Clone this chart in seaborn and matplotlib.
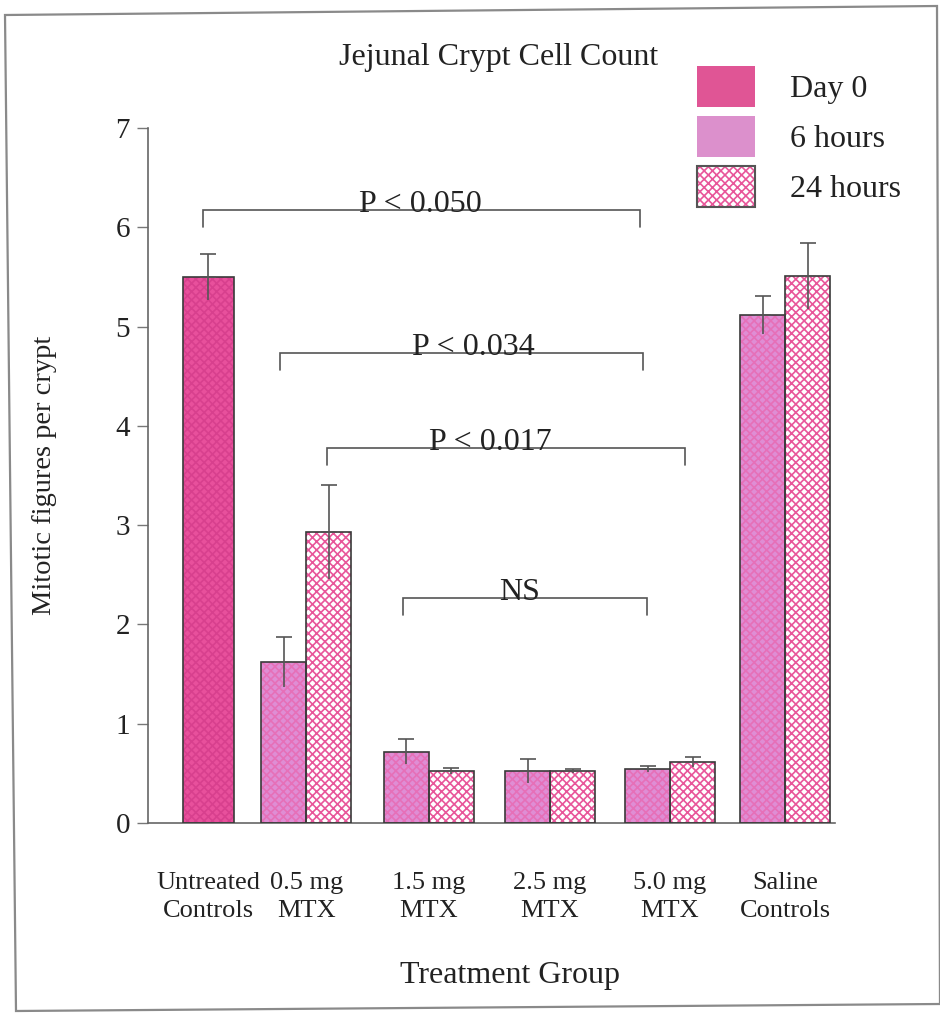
import numpy as np
import pandas as pd
import matplotlib
matplotlib.use("Agg")
import matplotlib.pyplot as plt
import seaborn as sns
from matplotlib.patches import Patch, Rectangle, Polygon

# ---------------- data ----------------
groups = ["Untreated\nControls", "0.5 mg\nMTX", "1.5 mg\nMTX", "2.5 mg\nMTX",
          "5.0 mg\nMTX", "Saline\nControls"]
series = ["Day 0", "6 hours", "24 hours"]

day0_values = [5.50]
day0_errors = [0.23]
h6_values = [1.62, 0.72, 0.52, 0.54, 5.12]
h6_errors = [0.25, 0.13, 0.12, 0.03, 0.19]
h24_values = [2.93, 0.52, 0.52, 0.61, 5.51]
h24_errors = [0.47, 0.03, 0.02, 0.05, 0.33]

y_ticks = [0, 1, 2, 3, 4, 5, 6, 7]

comparison_labels = ["P < 0.050", "P < 0.034", "P < 0.017", "NS"]

# ---------------- layout ----------------
group_x = [0.504, 1.32, 2.34, 3.35, 4.35, 5.31]
pair_offset = 0.1875
day0_width = 0.425
bracket_heights = [6.17, 4.73, 3.78, 2.27]
bracket_drop = 0.17

face_colors = {"Day 0": "#e8509c", "6 hours": "#df8dd4", "24 hours": "#ffffff"}
hatch_colors = {"Day 0": "#d8408e", "6 hours": "#e670b8", "24 hours": "#e8569a"}
edge_dark = "#3a3a3a"
text_color = "#222222"

rows = []
rows.append(dict(pos=group_x[0], value=day0_values[0], err=day0_errors[0], series="Day 0"))
for i, (v, e) in enumerate(zip(h6_values, h6_errors)):
    rows.append(dict(pos=group_x[i + 1] - pair_offset, value=v, err=e, series="6 hours"))
for i, (v, e) in enumerate(zip(h24_values, h24_errors)):
    rows.append(dict(pos=group_x[i + 1] + pair_offset, value=v, err=e, series="24 hours"))
df = pd.DataFrame(rows)

sns.set_theme(style="white")
plt.rcParams["font.family"] = ["Liberation Serif", "DejaVu Serif"]
plt.rcParams["hatch.linewidth"] = 1.2

fig = plt.figure(figsize=(9.4, 10.13), dpi=100)
ax = fig.add_axes([148 / 940, 1 - 823 / 1013, 687 / 940, 695 / 1013])

sns.barplot(data=df, x="pos", y="value", hue="series", hue_order=series,
            palette=[face_colors[s] for s in series], native_scale=True,
            dodge=False, width=1.0, errorbar=None, legend=False, saturation=1,
            ax=ax)

for cont, s in zip(ax.containers, series):
    for p in cont:
        if s == "Day 0":
            p.set_x(p.get_x() - (day0_width - p.get_width()) / 2)
            p.set_width(day0_width)
        p.set_hatch("xxxx")
        p.set_edgecolor(hatch_colors[s])
        p.set_linewidth(0)
        p.set_zorder(2)
        ax.add_patch(Rectangle((p.get_x(), p.get_y()), p.get_width(), p.get_height(),
                               fill=False, edgecolor=edge_dark, linewidth=1.2, zorder=3))

zeros = np.zeros(len(df))
ax.errorbar(df["pos"], df["value"], yerr=[df["err"], zeros], fmt="none",
            ecolor="#555555", elinewidth=1.2, capsize=0, zorder=4)
ax.errorbar(df["pos"], df["value"], yerr=[zeros, df["err"]], fmt="none",
            ecolor="#555555", elinewidth=1.2, capsize=5.8, capthick=1.2, zorder=4)

# brackets
pos_day0 = group_x[0]
pos_h6 = [g - pair_offset for g in group_x[1:]]
pos_h24 = [g + pair_offset for g in group_x[1:]]
bracket_ends = [(pos_day0 - 0.045, pos_h6[3] - 0.06),
                (pos_h6[0] - 0.035, pos_h6[3] - 0.035),
                (pos_h24[0] - 0.015, pos_h24[3] - 0.06),
                (pos_h6[1] - 0.03, pos_h6[3] - 0.005)]
label_x = [2.27, 2.71, 2.85, 3.1]
for (x0, x1), h, lab, lx in zip(bracket_ends, bracket_heights, comparison_labels, label_x):
    ax.plot([x0, x0, x1, x1], [h - bracket_drop, h, h, h - bracket_drop],
            color="#555555", lw=1.2, zorder=5, solid_joinstyle="miter")
    ax.text(lx, h - 0.02, lab, ha="center", va="baseline", fontsize=23,
            color=text_color, zorder=6)

ax.set_xlim(0, 687 / 120)
ax.set_ylim(0, 7)
ax.set_yticks(y_ticks)
ax.set_yticklabels([str(t) for t in y_ticks], fontsize=21, color=text_color)
ax.set_xticks(group_x)
ax.set_xticklabels(groups, fontsize=19, color=text_color, linespacing=1.35)
ax.tick_params(axis="x", length=0, pad=35)
ax.tick_params(axis="y", length=8, width=1.0, color="#777777", pad=5, left=True,
               direction="out")
for sp in ["top", "right"]:
    ax.spines[sp].set_visible(False)
ax.spines["left"].set_color("#666666")
ax.spines["bottom"].set_color("#666666")
ax.spines["left"].set_linewidth(1.2)
ax.spines["bottom"].set_linewidth(1.2)

ax.set_ylabel("Mitotic figures per crypt", fontsize=20.5, color=text_color)
ax.yaxis.set_label_coords((45 - 148) / 687, 0.5)
ax.set_xlabel("Treatment Group", fontsize=23, color=text_color)
ax.xaxis.set_label_coords((510 - 148) / 687, (823 - 975) / 695)
ax.xaxis.label.set_va("center")
ax.yaxis.label.set_va("center")

fig.text(499 / 940, 1 - 57 / 1013, "Jejunal Crypt Cell Count", ha="center",
         va="center", fontsize=23, color=text_color)

# legend
h_day0 = Patch(facecolor="#e05595", edgecolor="none")
h_6 = Patch(facecolor="#dc90cc", edgecolor="none")
h_24a = Patch(facecolor="white", edgecolor=hatch_colors["24 hours"], hatch="xxxx", linewidth=0)
h_24b = Patch(facecolor="none", edgecolor="#555555", linewidth=1.5)
fig.legend([h_day0, h_6, (h_24a, h_24b)], series, loc="upper left",
           bbox_to_anchor=(697 / 940, 1 - 66 / 1013), frameon=False, fontsize=23,
           handlelength=1.8, handleheight=1.6, labelspacing=0.28,
           handletextpad=1.1, borderpad=0, borderaxespad=0,
           labelcolor=text_color)

# scanned page frame
frame = Polygon([[5 / 940, 1 - 15 / 1013], [937 / 940, 1 - 6 / 1013],
                 [940 / 940, 1 - 1004 / 1013], [16 / 940, 1 - 1011 / 1013]],
                closed=True, fill=False, edgecolor="#8a8a8a", linewidth=1.6,
                transform=fig.transFigure)
fig.patches.append(frame)

fig.savefig("out.png", dpi=100)
